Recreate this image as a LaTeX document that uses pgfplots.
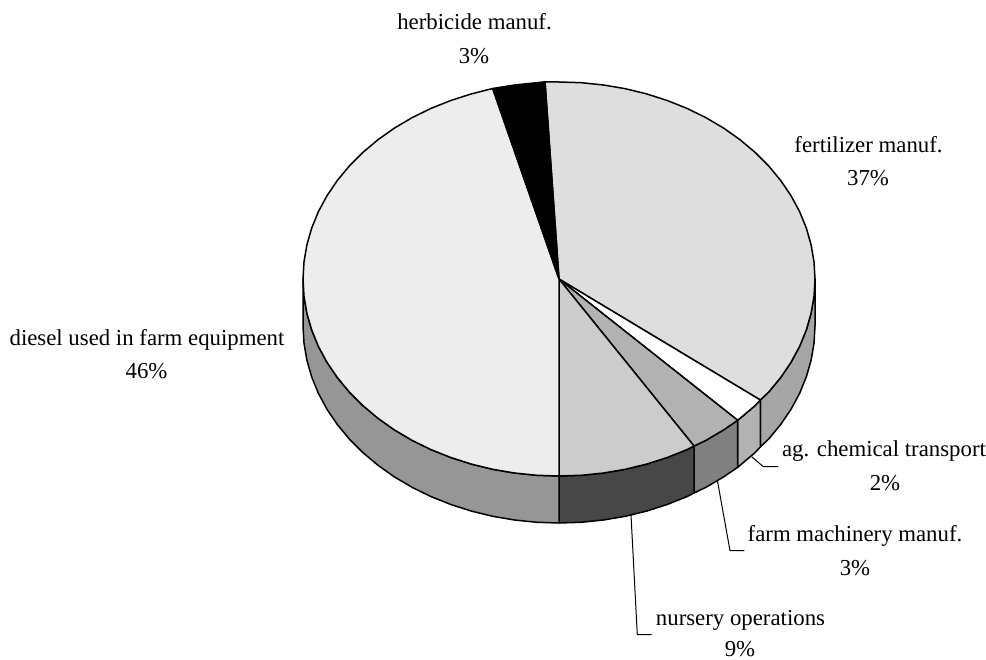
\documentclass[border=0pt]{standalone}
\usepackage{fontspec}
\setmainfont{Liberation Serif}
\usepackage{pgfplots}
\pgfplotsset{compat=1.18}
\tikzset{lab/.style={anchor=base, font=\fontsize{22.8}{27}\selectfont, inner sep=0pt, text=black}}
\begin{document}
\begin{tikzpicture}
\useasboundingbox (0,0) rectangle (986pt,660pt);
\begin{axis}[
  scale only axis, width=986pt, height=660pt,
  xmin=0, xmax=986, ymin=0, ymax=660, y dir=reverse,
  axis lines=none, clip=false,
  every axis plot/.append style={line join=round, line width=1.5pt}
]
% --- side walls ---
\addplot[draw=black, fill=black!35] coordinates {(815,279)(814,296.2)(811.1,313.2)(806.3,330)(799.6,346.4)(791,362.3)(780.7,377.5)(768.7,392)(760.3,400)
 (760.3,447)(768.7,439)(780.7,424.5)(791,409.3)(799.6,393.4)(806.3,377)(811.1,360.2)(814,343.2)(815,326)} --cycle;
\addplot[draw=black, fill=black!30] coordinates {(760.3,400)(755.1,405.6)(737.7,420.3)(737.7,467.3)(755.1,452.6)(760.3,447)} --cycle;
\addplot[draw=black, fill=black!50] coordinates {(737.7,420.3)(723.6,429.9)(705.8,440.4)(694,446)(694,493)(705.8,487.4)(723.6,476.9)(737.7,467.3)} --cycle;
\addplot[draw=black, fill=black!72] coordinates {(694,446)(687,449.6)(667.2,457.5)(646.6,464.1)(625.3,469.3)(603.5,473)(581.3,475.3)(559,476)
 (559,523)(581.3,522.3)(603.5,520)(625.3,516.3)(646.6,511.1)(667.2,504.5)(687,496.6)(694,493)} --cycle;
\addplot[draw=black, fill=black!41] coordinates {(559,476)(536.7,475.3)(514.5,473)(492.7,469.3)(471.4,464.1)(450.8,457.5)(431,449.6)(412.2,440.4)(394.4,429.9)(378,418.3)(362.9,405.6)(349.3,392)(337.3,377.5)(327,362.3)(318.4,346.4)(311.7,330)(306.9,313.2)(304,296.2)(303,279)
 (303,326)(304,343.2)(306.9,360.2)(311.7,377)(318.4,393.4)(327,409.3)(337.3,424.5)(349.3,439)(362.9,452.6)(378,465.3)(394.4,476.9)(412.2,487.4)(431,496.6)(450.8,504.5)(471.4,511.1)(492.7,516.3)(514.5,520)(536.7,522.3)(559,523)} --cycle;
% --- top slices ---
\addplot[draw=black, fill=black!13] coordinates {(559,279)(545,81.8)(559,82)(581.3,82.7)(603.5,85)(625.3,88.7)(646.6,93.9)(667.2,100.5)(687,108.4)(705.8,117.6)(723.6,128.1)(740,139.7)(755.1,152.4)(768.7,166)(780.7,180.5)(791,195.7)(799.6,211.6)(806.3,228)(811.1,244.8)(814,261.8)(815,279)(814,296.2)(811.1,313.2)(806.3,330)(799.6,346.4)(791,362.3)(780.7,377.5)(768.7,392)(760.3,400)} --cycle;
\addplot[draw=black, fill=white] coordinates {(559,279)(760.3,400)(755.1,405.6)(737.7,420.3)} --cycle;
\addplot[draw=black, fill=black!30] coordinates {(559,279)(737.7,420.3)(723.6,429.9)(705.8,440.4)(694,446)} --cycle;
\addplot[draw=black, fill=black!20] coordinates {(559,279)(694,446)(687,449.6)(667.2,457.5)(646.6,464.1)(625.3,469.3)(603.5,473)(581.3,475.3)(559,476)} --cycle;
\addplot[draw=black, fill=black!7] coordinates {(559,279)(559,476)(536.7,475.3)(514.5,473)(492.7,469.3)(471.4,464.1)(450.8,457.5)(431,449.6)(412.2,440.4)(394.4,429.9)(378,418.3)(362.9,405.6)(349.3,392)(337.3,377.5)(327,362.3)(318.4,346.4)(311.7,330)(306.9,313.2)(304,296.2)(303,279)(304,261.8)(306.9,244.8)(311.7,228)(318.4,211.6)(327,195.7)(337.3,180.5)(349.3,166)(362.9,152.4)(378,139.7)(394.4,128.1)(412.2,117.6)(431,108.4)(450.8,100.5)(471.4,93.9)(492.7,88.5)} --cycle;
\addplot[draw=black, fill=black] coordinates {(559,279)(492.7,88.5)(514.5,85)(536.7,82.7)(545,81.8)} --cycle;
% --- leader lines ---
\addplot[draw=black, line width=1pt] coordinates {(751.7,456.7)(763.3,466.7)(778.3,466.7)};
\addplot[draw=black, line width=1pt] coordinates {(717.3,480)(730,550.7)(744.3,550.7)};
\addplot[draw=black, line width=1pt] coordinates {(631,515)(637.3,634.7)(651.7,634.7)};
% --- labels ---
\node[lab] at (axis cs:474.5,30) {herbicide manuf.};
\node[lab] at (axis cs:474,63.5) {3\%};
\node[lab] at (axis cs:868.5,152.5) {fertilizer manuf.};
\node[lab] at (axis cs:868,186) {37\%};
\node[lab] at (axis cs:147,345.5) {diesel used in farm equipment};
\node[lab] at (axis cs:146.5,379) {46\%};
\node[lab] at (axis cs:884,457) {ag. chemical transport};
\node[lab] at (axis cs:885,490.5) {2\%};
\node[lab] at (axis cs:855,541.5) {farm machinery manuf.};
\node[lab] at (axis cs:855,575) {3\%};
\node[lab] at (axis cs:740.5,625.5) {nursery operations};
\node[lab] at (axis cs:740,656.5) {9\%};
\end{axis}
\end{tikzpicture}
\end{document}
